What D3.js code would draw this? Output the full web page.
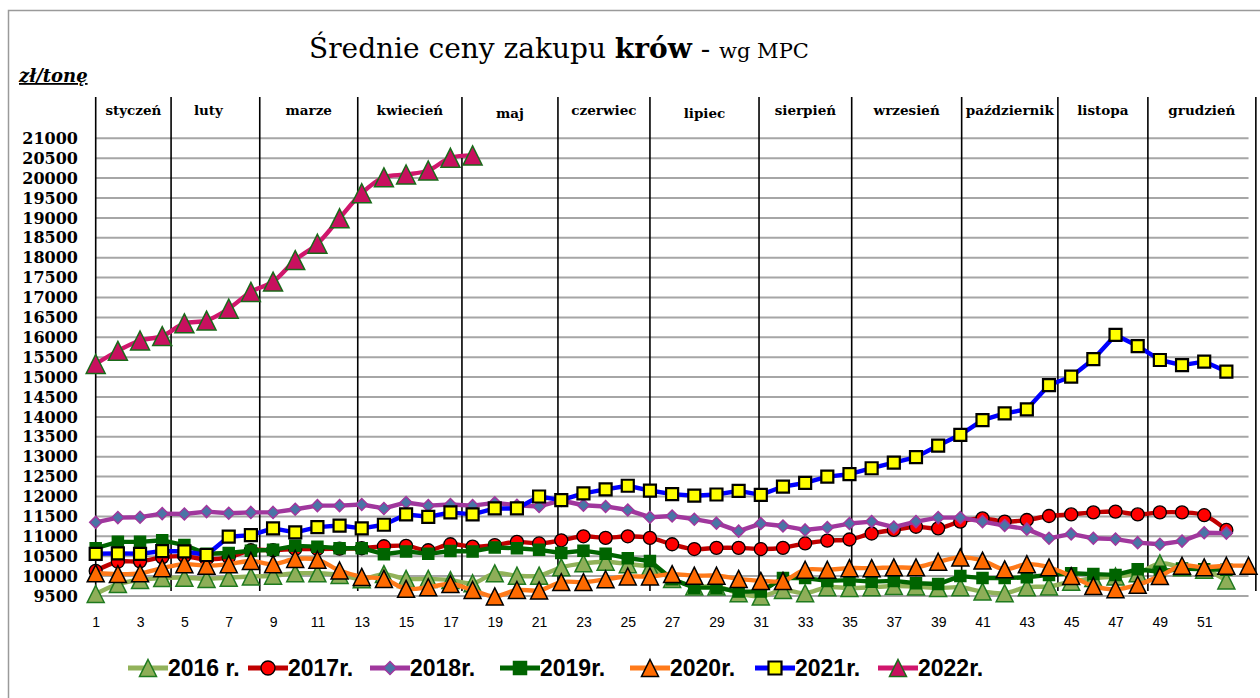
<!DOCTYPE html>
<html><head><meta charset="utf-8">
<script src="https://cdn.jsdelivr.net/npm/d3@7"></script>
<style>body{margin:0;background:#fff}svg{display:block}</style>
</head><body>
<svg id="c" width="1260" height="698"></svg>
<script>
// ---------- data ----------
const yearLabels = ["2016 r.", "2017r.", "2018r.", "2019r.", "2020r.", "2021r.", "2022r."];
const s2016 = [9550,9800,9900,9950,9960,9930,9960,9990,10010,10070,10070,10030,9920,10050,9930,9930,9900,9820,10070,10010,10010,10220,10320,10360,10300,10220,9930,9740,9740,9570,9490,9650,9570,9720,9700,9720,9750,9740,9700,9720,9610,9570,9720,9740,9860,9950,9990,10070,10320,10220,10160,9890];
const s2017 = [10130,10360,10370,10470,10500,10420,10470,10650,10650,10680,10680,10690,10700,10750,10760,10650,10800,10740,10780,10860,10820,10900,11000,10960,11000,10960,10800,10680,10710,10710,10680,10710,10820,10890,10920,11070,11160,11240,11200,11370,11450,11370,11410,11510,11550,11600,11620,11550,11600,11600,11530,11160];
const s2018 = [11350,11470,11480,11570,11560,11620,11580,11600,11600,11680,11770,11770,11800,11700,11850,11770,11800,11770,11840,11780,11750,11900,11780,11750,11660,11480,11510,11430,11330,11130,11320,11260,11160,11220,11320,11370,11230,11370,11470,11470,11370,11270,11180,10950,11060,10950,10930,10840,10800,10880,11090,11080];
const s2019 = [10700,10860,10860,10900,10780,10560,10580,10640,10660,10760,10740,10700,10700,10550,10620,10560,10630,10620,10720,10700,10660,10580,10640,10560,10450,10380,9920,9710,9710,9610,9610,9950,9950,9880,9900,9860,9880,9820,9800,10000,9950,9950,9970,10030,10070,10050,10030,10170,10110,10190,10170,10160];
const s2020 = [10070,10050,10070,10200,10300,10260,10300,10380,10300,10430,10410,10140,9980,9930,9680,9720,9800,9650,9490,9650,9640,9850,9850,9920,9990,9990,10050,10010,10010,9930,9880,9880,10160,10160,10200,10200,10220,10220,10360,10470,10390,10170,10300,10220,10000,9750,9670,9780,10000,10260,10220,10260,10260];
const s2021 = [10560,10570,10560,10630,10620,10530,10990,11030,11200,11100,11230,11270,11200,11290,11550,11490,11600,11550,11700,11700,12000,11910,12080,12180,12270,12150,12060,12020,12050,12140,12040,12250,12340,12500,12560,12710,12850,12990,13280,13550,13920,14090,14190,14800,15010,15450,16060,15780,15430,15300,15390,15140];
const s2022 = [15330,15660,15920,16030,16350,16420,16720,17140,17400,17940,18350,18990,19620,20020,20090,20190,20510,20570];
const months = ["styczeń","luty","marze","kwiecień","maj","czerwiec","lipiec","sierpień","wrzesień","październik","listopa","grudzień"];
const monthBoundaryWeeks = [1,4.4,8.4,12.82,17.52,21.85,26.0,30.92,35.1,40.06,44.4,48.46,53.33];
const yTicks = [9500,10000,10500,11000,11500,12000,12500,13000,13500,14000,14500,15000,15500,16000,16500,17000,17500,18000,18500,19000,19500,20000,20500,21000];
const xTickLabels = ["1","3","5","7","9","11","13","15","17","19","21","23","25","27","29","31","33","35","37","39","41","43","45","47","49","51"];

// ---------- styles ----------
const styles = [
  {line:"#92b25a", curve:true, marker:"tri", fill:"#8eae58", stroke:"#1f7a1f", size:17},
  {line:"#c00000", curve:true, marker:"circle", fill:"#ff0000", stroke:"#000", size:13},
  {line:"#a0379d", curve:false, marker:"diamond", fill:"#4a74a6", stroke:"#a0379d", size:12},
  {line:"#006400", curve:false, marker:"square", fill:"#006400", stroke:"#006400", size:11},
  {line:"#ff7a1a", curve:true, marker:"tri", fill:"#ff6a00", stroke:"#000", size:17},
  {line:"#0000ff", curve:false, marker:"square", fill:"#ffff00", stroke:"#000", size:12},
  {line:"#d0166c", curve:true, marker:"tri", fill:"#c8105f", stroke:"#1a6a1a", size:19}
];
const seriesData = [s2016,s2017,s2018,s2019,s2020,s2021,s2022];
const legendX = [128, 248, 370, 500, 630, 755, 878];

const svg = d3.select("#c");
const x = d3.scaleLinear().domain([1,53]).range([95.7, 95.7+52*22.17]);
const y = d3.scaleLinear().domain([9500,21000]).range([596, 138.3]);

// border
svg.append("path").attr("d","M8.5,698 V10.5 H1260").attr("fill","none").attr("stroke","#9a9a9a").attr("stroke-width",1.5);

// gridlines
svg.append("g").selectAll("line").data(yTicks).join("line")
  .attr("x1",x(1)).attr("x2",x(53)).attr("y1",d=>y(d)).attr("y2",d=>y(d))
  .attr("stroke","#a6a6a6").attr("stroke-width",2);

// y labels
const yAxis = d3.axisLeft(y).tickValues(yTicks).tickSize(0).tickPadding(0).tickFormat(d3.format("d"));
const ya = svg.append("g").attr("transform","translate(78,0)").call(yAxis);
ya.select(".domain").remove();
ya.selectAll("text").attr("font-family","'DejaVu Serif',serif").attr("font-weight","bold").attr("font-size",16).attr("fill","#000");

// x labels
const xAxis = d3.axisBottom(x).tickValues(xTickLabels.map(Number)).tickSize(0).tickPadding(0).tickFormat((d,i)=>xTickLabels[i]);
const xa = svg.append("g").attr("transform","translate(0,617)").call(xAxis);
xa.select(".domain").remove();
xa.selectAll("text").attr("font-family","'Liberation Sans',Arial,sans-serif").attr("font-size",14).attr("fill","#000");

// month separators
svg.append("g").selectAll("line").data(monthBoundaryWeeks).join("line")
  .attr("x1",d=>x(d)).attr("x2",d=>x(d)).attr("y1",97).attr("y2",(d,i)=>i===0?600:591)
  .attr("stroke","#000").attr("stroke-width",1.6);

// month labels
svg.append("g").selectAll("text").data(months).join("text")
  .attr("x",(d,i)=>(x(monthBoundaryWeeks[i])+x(monthBoundaryWeeks[i+1]))/2 - (i===1?7:0))
  .attr("y",(d,i)=>(i===4||i===6)?118:115)
  .attr("text-anchor","middle")
  .attr("font-family","'DejaVu Serif',serif").attr("font-weight","bold").attr("font-size",13.5)
  .text(d=>d);

// marker helper
function markerPath(type,s){
  const h=s/2;
  if(type==="tri") return `M0,${-h}L${h},${h}L${-h},${h}Z`;
  if(type==="diamond") return `M0,${-h}L${h},0L0,${h}L${-h},0Z`;
  if(type==="square") return `M${-h},${-h}H${h}V${h}H${-h}Z`;
  return null;
}
function drawMarker(g,st){
  if(st.marker==="circle"){
    g.append("circle").attr("r",st.size/2).attr("fill",st.fill).attr("stroke",st.stroke).attr("stroke-width",1.3);
  } else {
    g.append("path").attr("d",markerPath(st.marker,st.size)).attr("fill",st.fill).attr("stroke",st.stroke)
     .attr("stroke-width", st.marker==="square" && st.fill==="#ffff00" ? 2.2 : 1.5).attr("stroke-linejoin","miter");
  }
}

// series
seriesData.forEach((data,si)=>{
  const st = styles[si];
  const g = svg.append("g");
  const line = d3.line().x((d,i)=>x(i+1)).y(d=>y(d)).curve(st.curve?d3.curveCatmullRom.alpha(0.5):d3.curveLinear);
  g.append("path").datum(data).attr("d",line).attr("fill","none").attr("stroke",st.line).attr("stroke-width",4.4).attr("stroke-linejoin","round");
  g.selectAll("g.m").data(data).join("g").attr("class","m")
    .attr("transform",(d,i)=>`translate(${x(i+1)},${y(d)})`)
    .each(function(){ drawMarker(d3.select(this),st); });
});

// title
const title = svg.append("text").attr("x",309).attr("y",58).attr("font-family","'DejaVu Serif',serif").attr("fill","#000");
title.append("tspan").attr("font-size",28).text("Średnie ceny zakupu ");
title.append("tspan").attr("font-size",28).attr("font-weight","bold").text("krów");
title.append("tspan").attr("font-size",28).text(" - ");
title.append("tspan").attr("font-size",21).text("wg MPC");

// unit
svg.append("text").attr("x",19).attr("y",82).attr("font-family","'DejaVu Serif',serif").attr("font-style","italic")
  .attr("font-weight","bold").attr("font-size",18).attr("text-decoration","underline").text("zł/tonę");

// legend
const lg = svg.append("g");
yearLabels.forEach((lab,i)=>{
  const st = styles[i];
  const it = lg.append("g").attr("transform",`translate(${legendX[i]},668)`);
  it.append("line").attr("x1",0).attr("x2",40).attr("stroke",st.line).attr("stroke-width",5);
  const m = it.append("g").attr("transform","translate(20,0)");
  drawMarker(m,{...st,size:st.marker==="circle"?14:(st.marker==="tri"?17:13)});
  it.append("text").attr("x",40).attr("y",8).attr("font-family","'Liberation Sans',Arial,sans-serif")
    .attr("font-weight","bold").attr("font-size",23).text(lab);
});
</script>
</body></html>
